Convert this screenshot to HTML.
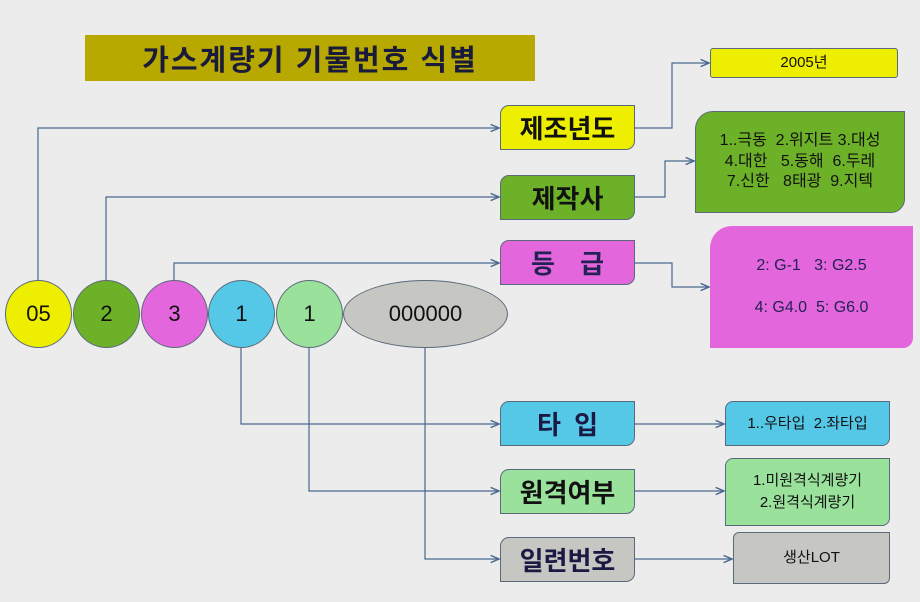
<!DOCTYPE html>
<html><head><meta charset="utf-8"><style>
body{margin:0;width:920px;height:602px;background:#ececec;position:relative;overflow:hidden;font-family:"Liberation Sans","Noto Sans CJK KR",sans-serif;}
.a{position:absolute;display:flex;align-items:center;justify-content:center;text-align:center;box-sizing:border-box;border:1px solid #5a6a7a;color:#111;}
.m{font-size:26px;font-weight:bold;border-radius:9px 0 9px 0;}
.c{border-radius:50%;font-size:22px;color:#111;}
.r{font-size:15px;line-height:1.45;color:#111;}
</style></head><body>
<div class="a" style="left:85px;top:35px;width:450px;height:46px;background:#b7a900;border:none;font-size:29px;font-weight:bold;color:#1a1a3a;letter-spacing:2px;">가스계량기 기물번호 식별</div>
<svg width="920" height="602" style="position:absolute;left:0;top:0" fill="none" stroke="#4a6890" stroke-width="1.2">
<defs><marker id="ar" markerWidth="8" markerHeight="8" refX="7" refY="4" orient="auto"><path d="M0,1 L7,4 L0,7" stroke="#4a6890" fill="none"/></marker></defs>
<path d="M38 282 V128 H499" marker-end="url(#ar)"/>
<path d="M106 282 V197 H499" marker-end="url(#ar)"/>
<path d="M174 282 V263 H499" marker-end="url(#ar)"/>
<path d="M241 346 V424 H499" marker-end="url(#ar)"/>
<path d="M309 346 V491 H499" marker-end="url(#ar)"/>
<path d="M425 346 V559 H499" marker-end="url(#ar)"/>
<path d="M635 128 H672 V63 H709" marker-end="url(#ar)"/>
<path d="M635 197 H665 V161 H694" marker-end="url(#ar)"/>
<path d="M635 263 H672 V287 H709" marker-end="url(#ar)"/>
<path d="M635 424 H724" marker-end="url(#ar)"/>
<path d="M635 491 H724" marker-end="url(#ar)"/>
<path d="M635 559 H732" marker-end="url(#ar)"/>
</svg>
<div class="a c" style="left:5px;top:280px;width:67px;height:68px;background:#eeee00;">05</div>
<div class="a c" style="left:73px;top:280px;width:67px;height:68px;background:#6db128;">2</div>
<div class="a c" style="left:141px;top:280px;width:67px;height:68px;background:#e466dc;">3</div>
<div class="a c" style="left:208px;top:280px;width:67px;height:68px;background:#55c8e8;">1</div>
<div class="a c" style="left:276px;top:280px;width:67px;height:68px;background:#9ae29c;">1</div>
<div class="a c" style="left:343px;top:280px;width:165px;height:68px;background:#c6c6c2;">000000</div>
<div class="a m" style="left:500px;top:105px;width:135px;height:45px;background:#eeee00;">제조년도</div>
<div class="a m" style="left:500px;top:175px;width:135px;height:45px;background:#6db128;">제작사</div>
<div class="a m" style="left:500px;top:240px;width:135px;height:45px;background:#e466dc;color:#222255;word-spacing:18px;">등 급</div>
<div class="a m" style="left:500px;top:401px;width:135px;height:45px;background:#55c8e8;color:#1a1a44;word-spacing:6px;">타 입</div>
<div class="a m" style="left:500px;top:469px;width:135px;height:45px;background:#9ae29c;">원격여부</div>
<div class="a m" style="left:500px;top:537px;width:135px;height:45px;background:#c6c6c2;color:#1a1a44;">일련번호</div>
<div class="a r" style="left:710px;top:48px;width:188px;height:30px;background:#eeee00;border-radius:3px;">2005년</div>
<div class="a r" style="left:695px;top:111px;width:210px;height:102px;background:#6db128;border-radius:18px 0 14px 0;font-size:16px;line-height:1.3;">1..극동&nbsp; 2.위지트 3.대성<br>4.대한&nbsp;&nbsp; 5.동해&nbsp; 6.두레<br>7.신한&nbsp;&nbsp; 8태광&nbsp; 9.지텍</div>
<div class="a r" style="left:710px;top:226px;width:203px;height:122px;background:#e466dc;border:none;border-radius:22px 0 10px 0;color:#222255;line-height:2.6;font-size:16px;">2: G-1&nbsp;&nbsp; 3: G2.5<br>4: G4.0&nbsp; 5: G6.0</div>
<div class="a r" style="left:725px;top:401px;width:165px;height:45px;background:#55c8e8;border-radius:8px 0 8px 0;">1..우타입&nbsp; 2.좌타입</div>
<div class="a r" style="left:725px;top:458px;width:165px;height:68px;background:#9ae29c;border-radius:8px 0 8px 0;">1.미원격식계량기<br>2.원격식계량기</div>
<div class="a r" style="left:733px;top:532px;width:157px;height:52px;background:#c6c6c2;border-radius:6px 0 6px 0;">생산LOT</div>
</body></html>
